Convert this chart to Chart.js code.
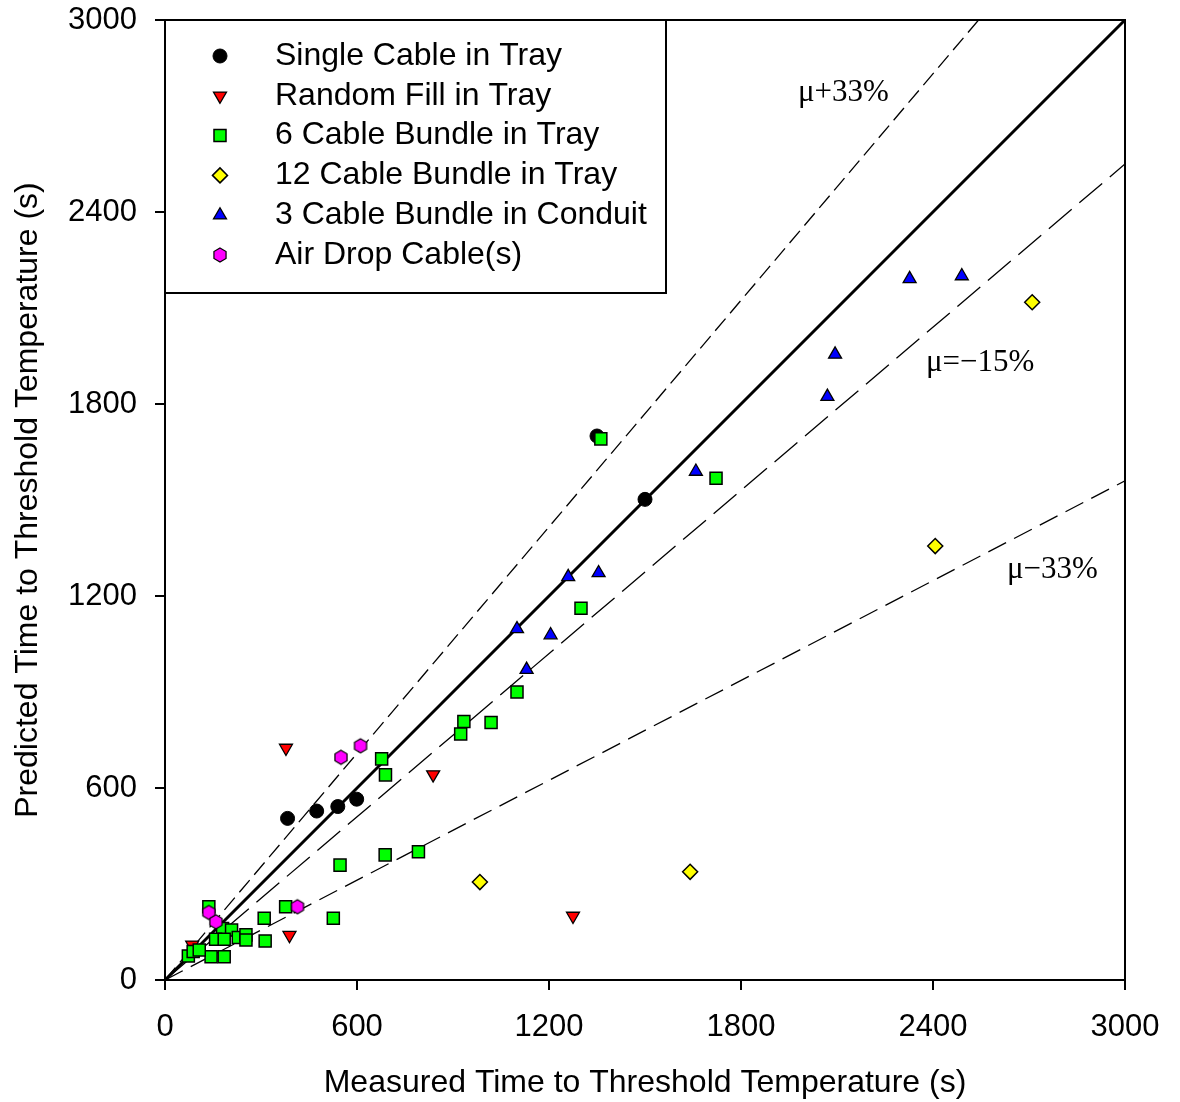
<!DOCTYPE html>
<html>
<head>
<meta charset="utf-8">
<title>Predicted vs Measured Time to Threshold Temperature</title>
<script src="https://cdn.jsdelivr.net/npm/chart.js@4.4.1/dist/chart.umd.min.js"></script>
<style>
  html, body { margin: 0; padding: 0; background: #fff; }
  #chart { width: 1180px; height: 1102px; }
</style>
</head>
<body>
<div id="chart"><canvas id="myChart" width="1180" height="1102"></canvas></div>
<script>
// [measured s, predicted s]
const singleCable = [[383, 505], [474, 528], [540, 542], [599, 565], [1350, 1700], [1500, 1502]];
const randomFill = [[378, 725], [838, 642], [1275, 200], [389, 140], [85, 110]];
const sixBundle = [
  [1362, 1691], [1722, 1568], [1300, 1162], [1100, 900], [934, 808], [1019, 805],
  [924, 769], [677, 691], [689, 641], [547, 359], [688, 391], [792, 401],
  [377, 229], [137, 229], [310, 193], [526, 193], [313, 122], [180, 161],
  [208, 156], [158, 127], [185, 127], [229, 133], [253, 141], [253, 125],
  [144, 73], [185, 73], [73, 75], [88, 89], [107, 94]
];
const twelveBundle = [[2710, 2118], [2407, 1356], [1641, 338], [984, 306]];
const conduitBundle = [
  [2490, 2200], [2327, 2191], [2094, 1955], [2070, 1823], [1659, 1589],
  [1260, 1260], [1355, 1272], [1100, 1097], [1205, 1078], [1130, 970]
];
const airDrop = [[611, 732], [550, 696], [414, 229], [137, 211], [159, 182]];

const seriesNames = [
  "Single Cable in Tray",
  "Random Fill in Tray",
  "6 Cable Bundle in Tray",
  "12 Cable Bundle in Tray",
  "3 Cable Bundle in Conduit",
  "Air Drop Cable(s)"
];

const axisTicks = [0, 600, 1200, 1800, 2400, 3000];

// 1:1 line plus the three bias lines
const guideSlopes = [1, 1.18, 0.85, 0.52];
const guideDashes = [[], [16, 7], [30, 10], [20, 9]];
const guideLabels = [
  { text: "\u03bc+33%", x: 1978, y: 2747 },
  { text: "\u03bc=\u221215%", x: 2378, y: 1903 },
  { text: "\u03bc\u221233%", x: 2631, y: 1256 }
];

const SANS = "'Liberation Sans', Arial, Helvetica, sans-serif";
const SERIF = "'Liberation Serif', 'Times New Roman', serif";

Chart.defaults.font.family = SANS;
Chart.defaults.color = "#000";

function hexMarker(r) {
  const c = document.createElement("canvas");
  const s = Math.ceil(r * 2 + 4);
  c.width = s;
  c.height = s;
  const g = c.getContext("2d");
  g.beginPath();
  for (let i = 0; i < 6; i++) {
    const a = Math.PI / 3 * i - Math.PI / 2;
    const px = s / 2 + r * Math.cos(a);
    const py = s / 2 + r * Math.sin(a);
    if (i === 0) g.moveTo(px, py); else g.lineTo(px, py);
  }
  g.closePath();
  g.fillStyle = "#ff00ff";
  g.fill();
  g.lineWidth = 1.2;
  g.strokeStyle = "#000";
  g.stroke();
  return c;
}

const hexImg = hexMarker(7);
const toXY = arr => arr.map(p => ({ x: p[0], y: p[1] }));

function markerSet(label, data, style, order) {
  return Object.assign({
    label: label,
    data: toXY(data),
    showLine: false,
    borderColor: "#000",
    borderWidth: 1.3,
    order: order
  }, style);
}

const markerStyles = [
  { pointStyle: "circle", pointRadius: 7, pointRotation: 0, pointBackgroundColor: "#000", pointBorderColor: "#000", pointBorderWidth: 1 },
  { pointStyle: "triangle", pointRadius: 7.5, pointRotation: 180, pointBackgroundColor: "#ff0000", pointBorderColor: "#000", pointBorderWidth: 1.3 },
  { pointStyle: "rect", pointRadius: 8.5, pointRotation: 0, pointBackgroundColor: "#00ff00", pointBorderColor: "#000", pointBorderWidth: 1.5 },
  { pointStyle: "rectRot", pointRadius: 7.5, pointRotation: 0, pointBackgroundColor: "#ffff00", pointBorderColor: "#000", pointBorderWidth: 1.5 },
  { pointStyle: "triangle", pointRadius: 7.5, pointRotation: 0, pointBackgroundColor: "#0000ff", pointBorderColor: "#000", pointBorderWidth: 1.3 },
  { pointStyle: hexImg, pointRadius: 7, pointRotation: 0, pointBackgroundColor: "#ff00ff", pointBorderColor: "#000", pointBorderWidth: 1.2 }
];

const seriesData = [singleCable, randomFill, sixBundle, twelveBundle, conduitBundle, airDrop];
const seriesOrder = [6, 5, 4, 3, 2, 1];

const datasets = [];
guideSlopes.forEach((k, i) => {
  datasets.push({
    label: "guide" + i,
    data: [{ x: 0, y: 0 }, { x: 3000, y: 3000 * k }],
    showLine: true,
    borderColor: "#000",
    borderWidth: i === 0 ? 3 : 1.3,
    borderDash: guideDashes[i],
    pointRadius: 0,
    order: 10
  });
});
seriesData.forEach((d, i) => {
  datasets.push(markerSet(seriesNames[i], d, markerStyles[i], seriesOrder[i]));
});

// closes the frame on the top and right sides
const framePlugin = {
  id: "frame",
  afterDraw(chart) {
    const { ctx, chartArea: a } = chart;
    ctx.save();
    ctx.strokeStyle = "#000";
    ctx.lineWidth = 2;
    ctx.beginPath();
    ctx.moveTo(a.left, a.top);
    ctx.lineTo(a.right, a.top);
    ctx.lineTo(a.right, a.bottom);
    ctx.stroke();
    ctx.restore();
  }
};

const guideTextPlugin = {
  id: "guideText",
  afterDatasetsDraw(chart) {
    const { ctx, scales } = chart;
    ctx.save();
    ctx.fillStyle = "#000";
    ctx.font = "31px " + SERIF;
    ctx.textAlign = "left";
    ctx.textBaseline = "alphabetic";
    guideLabels.forEach(g => {
      ctx.fillText(g.text, scales.x.getPixelForValue(g.x), scales.y.getPixelForValue(g.y));
    });
    ctx.restore();
  }
};

// boxed legend in the upper left corner of the plot
const boxLegendPlugin = {
  id: "boxLegend",
  afterDraw(chart) {
    const { ctx } = chart;
    const box = { left: 165, top: 20, right: 666, bottom: 293 };
    const markerX = 220, textX = 275, firstRow = 56, rowStep = 39.8;
    ctx.save();
    ctx.fillStyle = "#fff";
    ctx.fillRect(box.left, box.top, box.right - box.left, box.bottom - box.top);
    ctx.strokeStyle = "#000";
    ctx.lineWidth = 2;
    ctx.strokeRect(box.left, box.top, box.right - box.left, box.bottom - box.top);

    seriesNames.forEach((name, i) => {
      const y = firstRow + i * rowStep;
      const st = markerStyles[i];
      ctx.fillStyle = st.pointBackgroundColor;
      ctx.strokeStyle = st.pointBorderColor;
      ctx.lineWidth = st.pointBorderWidth;
      Chart.helpers.drawPoint(ctx, {
        pointStyle: st.pointStyle,
        radius: st.pointRadius,
        rotation: st.pointRotation,
        borderWidth: st.pointBorderWidth
      }, markerX, y);

      ctx.fillStyle = "#000";
      ctx.font = "32px " + SANS;
      ctx.textAlign = "left";
      ctx.textBaseline = "middle";
      ctx.fillText(name, textX, y);
    });
    ctx.restore();
  }
};

function axisOptions(title, isY) {
  return {
    type: "linear",
    min: 0,
    max: 3000,
    afterBuildTicks: s => { s.ticks = axisTicks.map(v => ({ value: v })); },
    afterFit: s => {
      if (isY) s.width = 165; else s.height = 122;
      // keep the plot frame where it is; labels may overhang the padding
      s.paddingTop = 0;
      s.paddingBottom = 0;
      s.paddingLeft = 0;
      s.paddingRight = 0;
    },
    grid: { drawOnChartArea: false, drawTicks: true, tickLength: 10, color: "#000", lineWidth: 2 },
    border: { display: true, color: "#000", width: 2 },
    ticks: {
      color: "#000",
      font: { size: 31 },
      padding: isY ? 18 : 19,
      maxRotation: 0,
      autoSkip: false,
      callback: v => String(v)
    },
    title: {
      display: true,
      text: title,
      color: "#000",
      font: { size: 32 },
      padding: isY ? { top: 9 } : { bottom: 0 }
    }
  };
}

const ctx = document.getElementById("myChart").getContext("2d");
const myChart = new Chart(ctx, {
  type: "scatter",
  data: { datasets: datasets },
  options: {
    responsive: false,
    devicePixelRatio: 1,
    animation: false,
    events: [],
    layout: { padding: { top: 20, right: 55, bottom: 0, left: 0 } },
    scales: {
      x: axisOptions("Measured Time to Threshold Temperature (s)", false),
      y: axisOptions("Predicted Time to Threshold Temperature (s)", true)
    },
    plugins: {
      legend: { display: false },
      tooltip: { enabled: false }
    }
  },
  plugins: [framePlugin, guideTextPlugin, boxLegendPlugin]
});
</script>
</body>
</html>
